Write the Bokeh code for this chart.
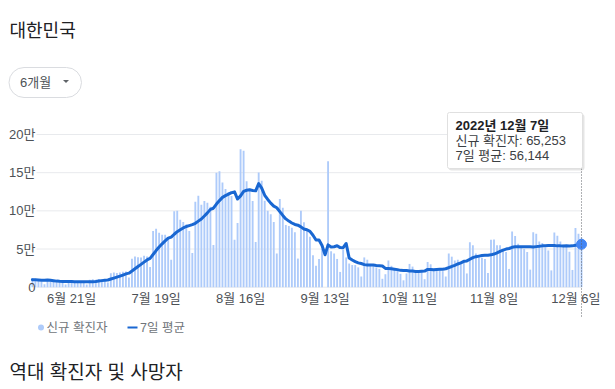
import pandas as pd
from bokeh.plotting import figure
from bokeh.models import Range1d, FixedTicker, Label, BoxAnnotation, PolyAnnotation, Arrow
from bokeh.embed import file_html
from bokeh.resources import INLINE

# ---------------- data ----------------
start_date = "2022-06-08"
# six days before the window, only used for the first 7-day averages
prior_cases = [12050, 10610, 9830, 5020, 6170, 13360]
new_cases = [
    12155, 10910, 9310, 7380, 3830, 9430, 9850, 8440, 7500, 7200,
    6060, 3530, 9310, 9590, 7490, 7220, 6240, 6240, 3420, 9900,
    10460, 9600, 10720, 10060, 9530, 6250, 18150, 19370, 18510, 19320,
    20290, 20410, 12690, 37360, 40270, 39200, 38880, 41310, 40340, 26300,
    73580, 76400, 71170, 68630, 68550, 65430, 35880, 99330, 100290, 88380,
    85320, 82000, 73590, 44690, 111790, 119920, 107890, 112900, 110670, 105510,
    55290, 149900, 151790, 137240, 128710, 124590, 119600, 62080, 84130, 180800,
    178570, 138810, 128970, 113000, 59050, 150290, 139340, 113370, 100180, 95600,
    85300, 44000, 115600, 103960, 81570, 80000, 78000, 72000, 37500, 100000,
    85000, 74000, 66000, 42000, 28000, 37000, 50000, 0, 165000, 47000,
    44000, 37000, 20000, 49000, 39000, 31000, 29000, 29000, 26000, 14000,
    39000, 36000, 30500, 28000, 26000, 24000, 11000, 17000, 35000, 28000,
    24000, 22000, 17500, 9000, 18000, 30500, 27000, 21000, 21000, 20000,
    10500, 33000, 30000, 24000, 24000, 23000, 21000, 14000, 44000, 40000,
    35000, 36000, 33000, 35000, 18000, 59000, 55000, 44000, 41000, 38500,
    37000, 18700, 62300, 62500, 55000, 55000, 50000, 46000, 24000, 72900,
    67000, 57000, 54000, 50000, 46000, 23000, 72000, 70000, 60000, 58000,
    52000, 48000, 22000, 71500, 67400, 60000, 56000, 55000, 46555, 22600,
    77600, 70000, 65253,
]
tick_dates = ["2022-06-21", "2022-07-19", "2022-08-16", "2022-09-13",
              "2022-10-11", "2022-11-08", "2022-12-06"]
tick_labels = ["6월 21일", "7월 19일", "8월 16일", "9월 13일",
               "10월 11일", "11월 8일", "12월 6일"]
y_ticks = [0, 50000, 100000, 150000, 200000]
y_labels = ["0", "5만", "10만", "15만", "20만"]
title_text = "대한민국"
range_text = "6개월"
legend_labels = ["신규 확진자", "7일 평균"]
footer_text = "역대 확진자 및 사망자"
tip_new_label = "신규 확진자"
tip_avg_label = "7일 평균"

dates = pd.date_range(start_date, periods=len(new_cases), freq="D")
series = pd.Series(prior_cases + new_cases, dtype=float)
avg7 = series.rolling(7).mean().iloc[len(prior_cases):].to_numpy()

# ---------------- layout constants (page pixels) ----------------
W, H = 600, 385
LAST_X_PAGE, PX_PER_DAY = 581.0, 3.017     # page x of the last day, px per day
Y0_PAGE, PX_PER_CASE = 286.7, 0.0007635    # page y of zero, px per case
GRID_LEFT = 36
DAY_MS = 86400000

BAR = "#aecbfa"
LINE = "#1967d2"
DOT = "#4285f4"
FONT = "Liberation Sans, Noto Sans CJK KR"

t_last = dates[-1].value / 1e6


def xdata(px):
    return t_last + (px - LAST_X_PAGE) / PX_PER_DAY * DAY_MS


def ydata(py):
    return (Y0_PAGE - py) / PX_PER_CASE


p = figure(width=W, height=H, x_axis_type="datetime",
           x_range=Range1d(xdata(0), xdata(W)), y_range=Range1d(ydata(H), ydata(0)),
           output_backend="svg", toolbar_location=None,
           min_border=0, min_border_left=0, min_border_right=0,
           min_border_top=0, min_border_bottom=0)
p.outline_line_color = None
p.background_fill_color = "white"
p.border_fill_color = "white"
p.xgrid.visible = False
p.ygrid.visible = False

# horizontal grid lines at the y ticks, from the axis to the last day
p.segment(x0=[xdata(GRID_LEFT)] * len(y_ticks), x1=[t_last] * len(y_ticks),
          y0=y_ticks, y1=y_ticks, line_color="#e8eaed", line_width=1)

# bars + 7-day average
p.vbar(x=dates, top=new_cases, width=0.62 * DAY_MS, fill_color=BAR, line_color=None)
p.line(x=dates, y=avg7, line_width=3, line_color=LINE, line_join="round", line_cap="round")

# axes drawn inside the frame at fixed locations
tick_ms = [int(pd.Timestamp(d).value // 10**6) for d in tick_dates]
p.xaxis.ticker = FixedTicker(ticks=tick_ms)
p.xaxis.major_label_overrides = {t: lab for t, lab in zip(tick_ms, tick_labels)}
p.xaxis.fixed_location = 0
p.yaxis.ticker = FixedTicker(ticks=y_ticks)
p.yaxis.major_label_overrides = {t: lab for t, lab in zip(y_ticks, y_labels)}
p.yaxis.fixed_location = xdata(GRID_LEFT)
for ax in (p.xaxis, p.yaxis):
    ax.axis_line_color = None
    ax.major_tick_line_color = None
    ax.minor_tick_line_color = None
    ax.major_tick_out = 0
    ax.major_tick_in = 0
    ax.major_label_text_font = FONT
    ax.major_label_text_font_size = "13px"
    ax.major_label_text_color = "#4d5156"
p.xaxis.major_label_standoff = 4
p.yaxis.major_label_standoff = 1


def sx(px):
    return px


def sy(py):
    return H - py


def text(txt, px, py, size, color, bold=False):
    p.add_layout(Label(x=sx(px), y=sy(py), x_units="screen", y_units="screen",
                       text=txt, text_font=FONT, text_font_size=f"{size}px",
                       text_color=color, text_baseline="middle", text_align="left",
                       text_font_style="bold" if bold else "normal"))


def box(l, r, t, b, fill, line=None, radius=0, alpha=1.0):
    p.add_layout(BoxAnnotation(left=sx(l), right=sx(r), top=sy(t), bottom=sy(b),
                               left_units="screen", right_units="screen",
                               top_units="screen", bottom_units="screen",
                               fill_color=fill, fill_alpha=alpha,
                               line_color=line, line_alpha=1.0 if line else 0.0,
                               line_width=1, border_radius=int(radius)))


# title and range selector
text(title_text, 9, 30, 18, "#202124")
box(8.5, 81, 67, 97, "white", "#dadce0", radius=15)
text(range_text, 19.5, 82, 13, "#4d5156")
p.add_layout(PolyAnnotation(xs=[sx(62.5), sx(68.5), sx(65.5)], ys=[sy(79.5), sy(79.5), sy(82.5)],
                            xs_units="screen", ys_units="screen",
                            fill_color="#5f6368", fill_alpha=1, line_alpha=0))

# hover guide line at the last day
p.add_layout(Arrow(end=None, x_start=t_last, x_end=t_last,
                   y_start=ydata(168), y_end=ydata(318),
                   line_color="#5f6368", line_width=1, line_dash="1 2"))
p.scatter(x=[dates[-1]], y=[avg7[-1]], size=10, fill_color=DOT, line_color=DOT)

# tooltip
box(448, 584, 113.5, 170, "#000000", radius=3, alpha=0.10)
box(447, 582, 112, 168, "white", "#e0e0e0", radius=2)
last = dates[-1]
text(f"{last.year}년 {last.month}월 {last.day}일", 455, 124.5, 13, "#202124", bold=True)
text(f"{tip_new_label}: {new_cases[-1]:,}", 455, 139.5, 13, "#3c4043")
text(f"{tip_avg_label}: {round(avg7[-1]):,}", 455, 154.5, 13, "#3c4043")

# legend
box(37.5, 43.5, 324, 330, BAR, radius=3)
text(legend_labels[0], 46, 327, 12.5, "#70757a")
box(127, 137, 326, 328, LINE)
text(legend_labels[1], 139.5, 327, 12.5, "#70757a")

# next section heading
text(footer_text, 9, 372, 19, "#202124")

open("out.html", "w").write(file_html(p, INLINE))
